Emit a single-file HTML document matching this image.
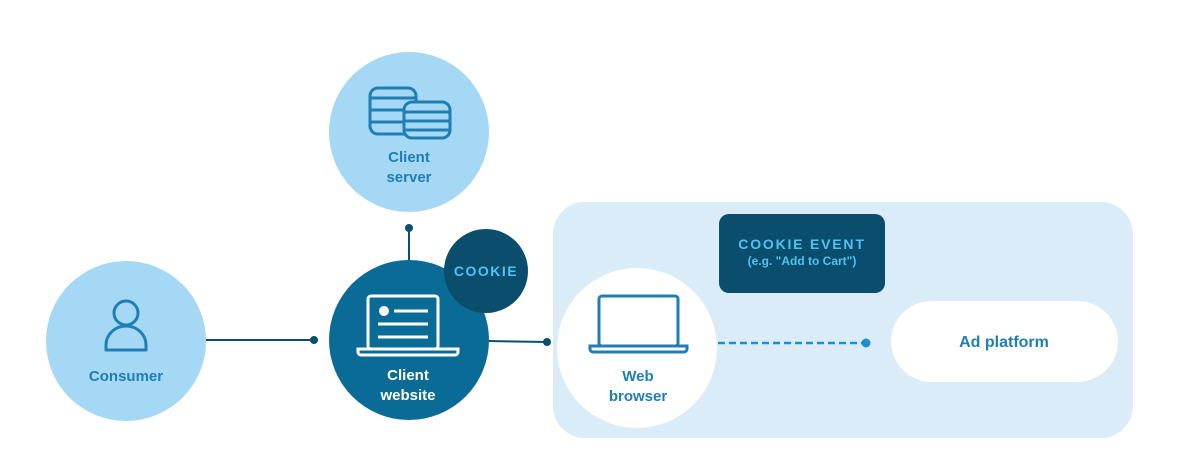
<!DOCTYPE html>
<html><head><meta charset="utf-8"><style>html,body{margin:0;padding:0;background:#fff;width:1202px;height:472px;overflow:hidden}svg{display:block}text{font-family:"Liberation Sans",sans-serif;font-weight:bold}</style></head><body>
<svg width="1202" height="472" viewBox="0 0 1202 472">
<rect x="553" y="202" width="580" height="236" rx="32" fill="#d9ecf8"/>
<line x1="206" y1="340" x2="314" y2="340" stroke="#0b4f6e" stroke-width="2"/>
<circle cx="314" cy="340" r="4" fill="#0b4f6e"/>
<line x1="409" y1="228" x2="409" y2="262" stroke="#0b4f6e" stroke-width="2"/>
<circle cx="409" cy="228" r="4" fill="#0b4f6e"/>
<line x1="486" y1="341" x2="547" y2="342" stroke="#0b4f6e" stroke-width="2"/>
<circle cx="547" cy="342" r="4" fill="#0b4f6e"/>
<line x1="718" y1="343" x2="866" y2="343" stroke="#1b8fd0" stroke-width="2.5" stroke-dasharray="7,4"/>
<circle cx="866" cy="343" r="4.5" fill="#1b8fd0"/>
<circle cx="126" cy="341" r="80" fill="#a4d8f5"/>
<circle cx="126" cy="313" r="12" fill="none" stroke="#1f7fb5" stroke-width="3"/>
<path d="M106 350 v-5 a20 19 0 0 1 40 0 v5 z" fill="none" stroke="#1f7fb5" stroke-width="3" stroke-linejoin="round"/>
<text x="126" y="381" text-anchor="middle" font-size="15" fill="#1f7fb5">Consumer</text>
<circle cx="409" cy="132" r="80" fill="#a4d8f5"/>
<g fill="#a4d8f5" stroke="#1f7fb5" stroke-width="3">
<rect x="370" y="88" width="46" height="46" rx="8"/>
<line x1="370" y1="98" x2="416" y2="98"/><line x1="370" y1="110" x2="416" y2="110"/><line x1="370" y1="122" x2="416" y2="122"/>
<rect x="404" y="102" width="46" height="36" rx="8"/>
<line x1="404" y1="112" x2="450" y2="112"/><line x1="404" y1="121" x2="450" y2="121"/><line x1="404" y1="130" x2="450" y2="130"/>
</g>
<text x="409" y="162" text-anchor="middle" font-size="15" fill="#1f7fb5" font-weight="normal">Client</text>
<text x="409" y="182" text-anchor="middle" font-size="15" fill="#1f7fb5" font-weight="normal">server</text>
<circle cx="409" cy="340" r="80" fill="#0a6b96"/>
<rect x="368" y="296" width="70" height="53" rx="3" fill="none" stroke="#fff" stroke-width="3"/>
<path d="M358 349 h100 v3 a3 3 0 0 1 -3 3 h-94 a3 3 0 0 1 -3 -3z" fill="none" stroke="#fff" stroke-width="3"/>
<circle cx="384" cy="311" r="5" fill="#fff"/>
<line x1="394" y1="311" x2="428" y2="311" stroke="#fff" stroke-width="3"/>
<line x1="378" y1="324" x2="428" y2="324" stroke="#fff" stroke-width="3"/>
<line x1="378" y1="337" x2="428" y2="337" stroke="#fff" stroke-width="3"/>
<text x="408" y="380" text-anchor="middle" font-size="15" fill="#fff">Client</text>
<text x="408" y="400" text-anchor="middle" font-size="15" fill="#fff">website</text>
<circle cx="486" cy="271" r="42" fill="#0b4d6c"/>
<text x="486" y="276" text-anchor="middle" font-size="14" fill="#4fc3f2" letter-spacing="1.5">COOKIE</text>
<circle cx="637" cy="348" r="80" fill="#fff"/>
<rect x="599" y="296" width="79" height="50" rx="3" fill="none" stroke="#1f7fb5" stroke-width="3"/>
<path d="M590 346 h97 v3 a3 3 0 0 1 -3 3 h-91 a3 3 0 0 1 -3 -3z" fill="none" stroke="#1f7fb5" stroke-width="3"/>
<text x="638" y="381" text-anchor="middle" font-size="15" fill="#1f7fb5" font-weight="normal">Web</text>
<text x="638" y="401" text-anchor="middle" font-size="15" fill="#1f7fb5" font-weight="normal">browser</text>
<rect x="719" y="214" width="166" height="79" rx="10" fill="#0b4d6c"/>
<text x="802" y="249" text-anchor="middle" font-size="14" fill="#4fc3f2" letter-spacing="1.8">COOKIE EVENT</text>
<text x="802" y="265" text-anchor="middle" font-size="12" fill="#4fc3f2" font-weight="normal">(e.g. "Add to Cart")</text>
<rect x="891" y="301" width="227" height="81" rx="40.5" fill="#fff"/>
<text x="1004" y="347" text-anchor="middle" font-size="16" fill="#1f7fb5">Ad platform</text>
</svg>
</body></html>
